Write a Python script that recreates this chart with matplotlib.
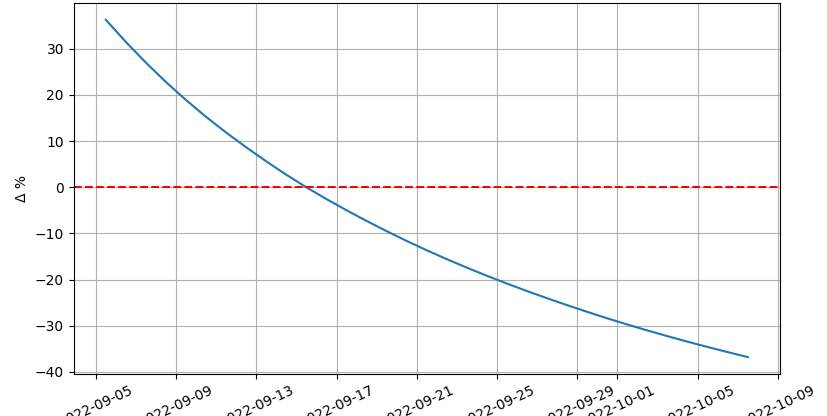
import matplotlib
matplotlib.use("Agg")
import matplotlib.pyplot as plt
import pandas as pd

dates = pd.date_range("2022-09-05 12:00", periods=33, freq="D")
delta_pct = [36.3, 31.5, 27.0, 22.8, 18.9, 15.25, 11.85, 8.65, 5.6, 2.7,
             -0.02, -2.57, -4.99, -7.31, -9.53, -11.65, -13.67, -15.6, -17.44, -19.2,
             -20.89, -22.51, -24.07, -25.57, -27.02, -28.42, -29.76, -31.05, -32.29, -33.48,
             -34.63, -35.74, -36.82]

fig = plt.figure(figsize=(8.28, 4.16), dpi=100)
ax = fig.add_axes([0.089, 0.101, 0.853, 0.892])
ax.plot(dates, delta_pct)
ax.axhline(0, color="red", linestyle="--")
ax.grid(True)
ax.set_ylabel("Δ %")
plt.setp(ax.get_xticklabels(), rotation=25)
fig.savefig("out.png", dpi=100)
